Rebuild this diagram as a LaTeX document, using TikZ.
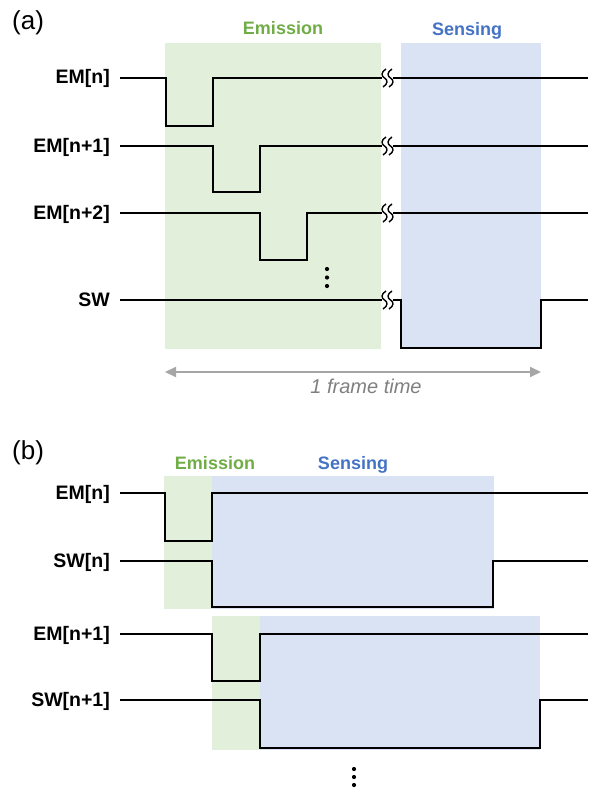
\documentclass[tikz,border=0pt]{standalone}
\usepackage{fontspec}
\setmainfont{Liberation Sans}
\usetikzlibrary{arrows.meta}
\definecolor{emfill}{HTML}{E2EFDA}
\definecolor{sefill}{HTML}{DAE3F3}
\definecolor{emtext}{HTML}{70AD47}
\definecolor{setext}{HTML}{4472C4}
\definecolor{framegray}{HTML}{A6A6A6}
\definecolor{frametext}{HTML}{7F7F7F}
\begin{document}
\begin{tikzpicture}[x=1pt,y=-1pt,
  sig/.style={line width=1.8pt, line join=miter},
  lbl/.style={anchor=base east, inner sep=0pt, font=\fontsize{19.5}{22}\selectfont\bfseries},
  phase/.style={anchor=base, inner sep=0pt, font=\fontsize{18}{20}\selectfont\bfseries},
  panel/.style={anchor=base west, inner sep=0pt, font=\fontsize{26}{29}\selectfont},
  dotmark/.style={circle, fill=black, inner sep=0pt, minimum size=4.2pt},
  brkmark/.pic={
    \draw[line width=1.4pt] (-1,-9) .. controls (-6,-6) and (-6,-2) .. (-2.5,0) .. controls (1,2) and (1,6) .. (-4,9);
    \draw[line width=1.4pt] (5,-9) .. controls (0,-6) and (0,-2) .. (3.5,0) .. controls (7,2) and (7,6) .. (2,9);
  }
]
\useasboundingbox (0,0) rectangle (592,789);

% ---------------- (a) ----------------
\fill[emfill] (165,43) rectangle (381,349);
\fill[sefill] (401,43) rectangle (541,349);

\node[panel] (pa) at (12,30) {(a)};
\node[phase, text=emtext] (emA) at (283,35) {Emission};
\node[phase, text=setext] (seA) at (467,36) {Sensing};

\node[lbl] (la1) at (110,84) {EM[n]};
\node[lbl] (la2) at (110,152) {EM[n+1]};
\node[lbl] (la3) at (110,219) {EM[n+2]};
\node[lbl] (la4) at (110,306) {SW};

\draw[sig] (120,78) -- (166,78) -- (166,126) -- (213,126) -- (213,78) -- (382,78);
\draw[sig] (393,78) -- (588,78);
\pic at (387,78) {brkmark};

\draw[sig] (120,146) -- (213,146) -- (213,192) -- (260,192) -- (260,146) -- (382,146);
\draw[sig] (393,146) -- (588,146);
\pic at (387,146) {brkmark};

\draw[sig] (120,213) -- (260,213) -- (260,260) -- (307,260) -- (307,213) -- (382,213);
\draw[sig] (393,213) -- (588,213);
\pic at (387,213) {brkmark};

\draw[sig] (120,300) -- (382,300);
\draw[sig] (393,300) -- (401,300) -- (401,348) -- (541,348) -- (541,300) -- (588,300);
\pic at (387,300) {brkmark};

\node[dotmark] (da1) at (327,269) {};
\node[dotmark] (da2) at (327,277.5) {};
\node[dotmark] (da3) at (327,286) {};

\coordinate (fl) at (165,372);
\coordinate (fr) at (541,372);
\draw[framegray, line width=2pt, {Triangle[length=11pt,width=10pt]}-{Triangle[length=11pt,width=10pt]}] (fl) -- (fr);
\node[anchor=base, inner sep=0pt, text=frametext, font=\fontsize{20}{22}\selectfont\itshape] (ft) at (366,393) {1 frame time};

% ---------------- (b) ----------------
\node[panel] (pb) at (12,459) {(b)};
\fill[emfill] (164,476) rectangle (212,609);
\fill[sefill] (212,476) rectangle (494,609);
\fill[emfill] (212,616) rectangle (260,750);
\fill[sefill] (260,616) rectangle (540,750);

\node[phase, text=emtext] (emB) at (215,469) {Emission};
\node[phase, text=setext] (seB) at (353,469) {Sensing};

\node[lbl] (lb1) at (110,499) {EM[n]};
\node[lbl] (lb2) at (110,567) {SW[n]};
\node[lbl] (lb3) at (110,640) {EM[n+1]};
\node[lbl] (lb4) at (110,706) {SW[n+1]};

\draw[sig] (120,493) -- (165,493) -- (165,541) -- (212,541) -- (212,493) -- (588,493);
\draw[sig] (120,561) -- (212,561) -- (212,607) -- (493,607) -- (493,561) -- (588,561);
\draw[sig] (120,634) -- (212,634) -- (212,681) -- (260,681) -- (260,634) -- (588,634);
\draw[sig] (120,700) -- (260,700) -- (260,748) -- (540,748) -- (540,700) -- (588,700);

\node[dotmark] (db1) at (354,769) {};
\node[dotmark] (db2) at (354,777) {};
\node[dotmark] (db3) at (354,785) {};
\end{tikzpicture}
\end{document}
